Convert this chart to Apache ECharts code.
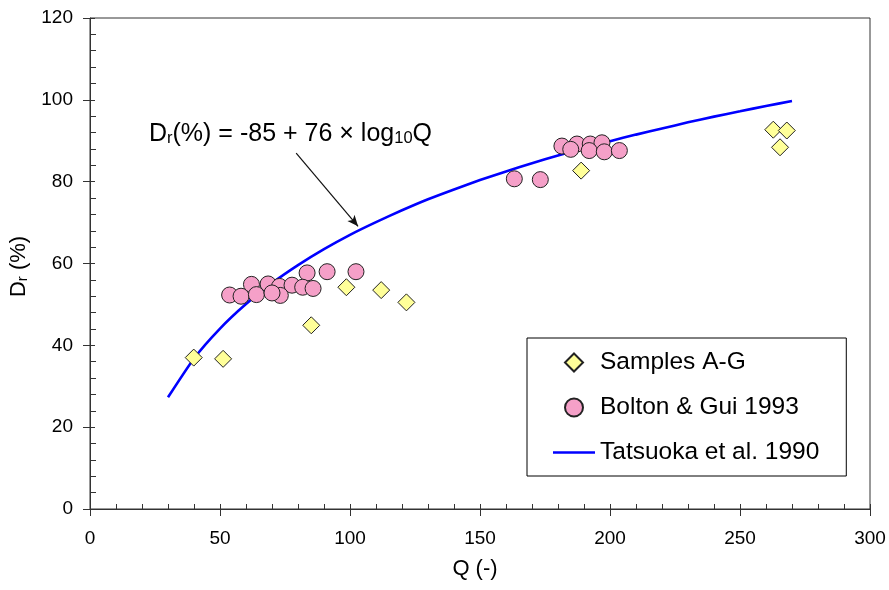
<!DOCTYPE html>
<html>
<head>
<meta charset="utf-8">
<script src="https://cdn.jsdelivr.net/npm/echarts@6/dist/echarts.min.js"></script>
<style>
  html, body { margin: 0; padding: 0; background: #ffffff; }
  #chart { width: 889px; height: 590px; }
</style>
</head>
<body>
<div id="chart"></div>
<script>
// Axis ranges and tick steps
const xMin = 0, xMax = 300, xStep = 50;
const yMin = 0, yMax = 120, yStep = 20;

// Samples A-G: Q (-) and relative density Dr (%)
const sampleQ  = [39.9, 51.2, 85.1, 98.6, 112.0, 121.7, 188.9, 262.8, 268.0, 265.4];
const sampleDr = [37.0, 36.7, 44.9, 54.2, 53.5, 50.5, 82.7, 92.7, 92.5, 88.4];

// Bolton & Gui 1993
const boltonQ  = [62.1, 68.5, 72.9, 77.7, 83.5, 91.2, 102.3,
                  53.7, 58.1, 73.2, 64.0, 70.0, 81.8, 85.8,
                  163.2, 173.2,
                  181.5, 187.3, 192.4, 196.9,
                  184.9, 192.0, 197.8, 203.6];
const boltonDr = [54.9, 55.0, 54.4, 54.7, 57.7, 58.0, 58.0,
                  52.3, 52.0, 52.2, 52.4, 52.8, 54.2, 53.9,
                  80.7, 80.5,
                  88.7, 89.2, 89.2, 89.5,
                  87.9, 87.6, 87.3, 87.6];

// Tatsuoka et al. 1990 curve
const tatsuokaQ  = [30, 40, 50, 60, 70, 80, 90, 100, 110, 120, 130, 140, 150,
                    160, 170, 180, 190, 200, 210, 220, 230, 240, 250, 260, 270];
const tatsuokaDr = [27.3, 36.8, 44.1, 50.1, 55.2, 59.6, 63.5, 67.0, 70.1, 73.0, 75.7, 78.1, 80.4,
                    82.5, 84.5, 86.4, 88.2, 89.9, 91.5, 93.0, 94.5, 95.9, 97.2, 98.5, 99.7];

// Arrow pointing from the equation to the curve: [Q, Dr] start and end
const arrowFrom = [79.3, 87.0];
const arrowTo   = [103.1, 69.1];

const FONT = '"Liberation Sans", Arial, sans-serif';
const INK = '#000000';
const AXIS = '#333333';

// Legend icons (paths keep their aspect inside the legend item box)
const ICON_DIAMOND = 'path://M10,0L20,10L10,20L0,10Z';
const ICON_LINE = 'path://M0,0L42,0L42,2.6L0,2.6Z';

const pairs = (xs, ys) => xs.map((x, i) => [x, ys[i]]);

const chart = echarts.init(document.getElementById('chart'), null, { renderer: 'canvas' });

const baseX = {
  type: 'value', min: xMin, max: xMax, interval: xStep,
  position: 'bottom', gridIndex: 0,
  splitLine: { show: false }
};
const baseY = {
  type: 'value', min: yMin, max: yMax, interval: yStep,
  position: 'left', gridIndex: 0,
  splitLine: { show: false }
};

chart.setOption({
  animation: false,
  backgroundColor: '#ffffff',
  textStyle: { fontFamily: FONT, color: INK },
  grid: {
    left: 90, right: 19, top: 18, bottom: 81,
    containLabel: false,
    show: true, borderColor: AXIS, borderWidth: 1,
    backgroundColor: 'transparent'
  },
  xAxis: [
    Object.assign({}, baseX, {
      name: 'Q (-)',
      nameLocation: 'middle',
      nameGap: 49,
      nameTextStyle: { fontSize: 22, color: INK, fontFamily: FONT, padding: [0, 10, 0, 0] },
      axisLine: { show: true, onZero: false, lineStyle: { color: AXIS, width: 1 } },
      axisTick: { show: true, inside: false, length: 7, lineStyle: { color: AXIS, width: 1 } },
      minorTick: { show: false },
      axisLabel: { show: true, fontSize: 19, color: INK, fontFamily: FONT, margin: 20 }
    }),
    Object.assign({}, baseX, {
      axisLine: { show: false, onZero: false },
      axisTick: { show: true, inside: true, length: 5, lineStyle: { color: AXIS, width: 1 } },
      minorTick: { show: true, splitNumber: 5, length: 5, lineStyle: { color: AXIS, width: 1 } },
      axisLabel: { show: false }
    })
  ],
  yAxis: [
    Object.assign({}, baseY, {
      name: 'D{s|r} (%)',
      nameLocation: 'middle',
      nameRotate: 90,
      nameGap: 46,
      nameTextStyle: {
        fontSize: 22, color: INK, fontFamily: FONT, padding: [0, 6, 0, 0],
        rich: { s: { fontSize: 15, lineHeight: 12, verticalAlign: 'bottom', color: INK, fontFamily: FONT } }
      },
      axisLine: { show: true, onZero: false, lineStyle: { color: AXIS, width: 1 } },
      axisTick: { show: true, inside: false, length: 7, lineStyle: { color: AXIS, width: 1 } },
      minorTick: { show: false },
      axisLabel: { show: true, fontSize: 19, color: INK, fontFamily: FONT, margin: 17 }
    }),
    Object.assign({}, baseY, {
      axisLine: { show: false, onZero: false },
      axisTick: { show: true, inside: true, length: 5, lineStyle: { color: AXIS, width: 1 } },
      minorTick: { show: true, splitNumber: 5, length: 6, lineStyle: { color: AXIS, width: 1 } },
      axisLabel: { show: false }
    })
  ],
  legend: {
    orient: 'vertical',
    left: 527, top: 338,
    padding: [12, 27, 11, 26],
    itemGap: 20,
    itemWidth: 42,
    itemHeight: 18,
    symbolKeepAspect: true,
    selectedMode: false,
    backgroundColor: '#ffffff',
    borderColor: '#000000',
    borderWidth: 1,
    borderRadius: 0,
    textStyle: { fontSize: 24.5, color: INK, fontFamily: FONT, lineHeight: 24 },
    data: [
      { name: 'Samples A-G', icon: ICON_DIAMOND },
      { name: 'Bolton & Gui 1993', icon: 'circle' },
      { name: 'Tatsuoka et al. 1990', icon: ICON_LINE }
    ]
  },
  graphic: [
    {
      type: 'text',
      x: 149, y: 134,
      silent: true,
      style: {
        text: 'D{s|r}(%) = -85 + 76 × log{s|10}Q',
        fontSize: 25,
        fontFamily: FONT,
        fill: INK,
        verticalAlign: 'middle',
        align: 'left',
        rich: { s: { fontSize: 16.5, lineHeight: 11, verticalAlign: 'bottom', fill: INK, fontFamily: FONT } }
      }
    }
  ],
  series: [
    {
      name: 'Tatsuoka et al. 1990',
      type: 'line',
      xAxisIndex: 0, yAxisIndex: 0,
      data: pairs(tatsuokaQ, tatsuokaDr),
      symbol: 'none',
      smooth: 0.2,
      z: 1,
      lineStyle: { color: '#0000ff', width: 2.6 },
      itemStyle: { color: '#0000ff', borderWidth: 0 },
      markLine: {
        silent: true,
        symbol: ['none', 'arrow'],
        symbolSize: [7, 11],
        label: { show: false },
        lineStyle: { color: '#111111', width: 1.2, type: 'solid' },
        emphasis: { disabled: true },
        data: [[{ coord: arrowFrom }, { coord: arrowTo }]]
      }
    },
    {
      name: 'Samples A-G',
      type: 'scatter',
      xAxisIndex: 0, yAxisIndex: 0,
      data: pairs(sampleQ, sampleDr),
      symbol: 'diamond',
      symbolSize: 17,
      z: 3,
      itemStyle: { color: '#ffff99', borderColor: '#222222', borderWidth: 1, opacity: 1 }
    },
    {
      name: 'Bolton & Gui 1993',
      type: 'scatter',
      xAxisIndex: 0, yAxisIndex: 0,
      data: pairs(boltonQ, boltonDr),
      symbol: 'circle',
      symbolSize: 16,
      z: 3,
      itemStyle: { color: '#f5a0c8', borderColor: '#222222', borderWidth: 1, opacity: 1 }
    }
  ]
});
</script>
</body>
</html>
